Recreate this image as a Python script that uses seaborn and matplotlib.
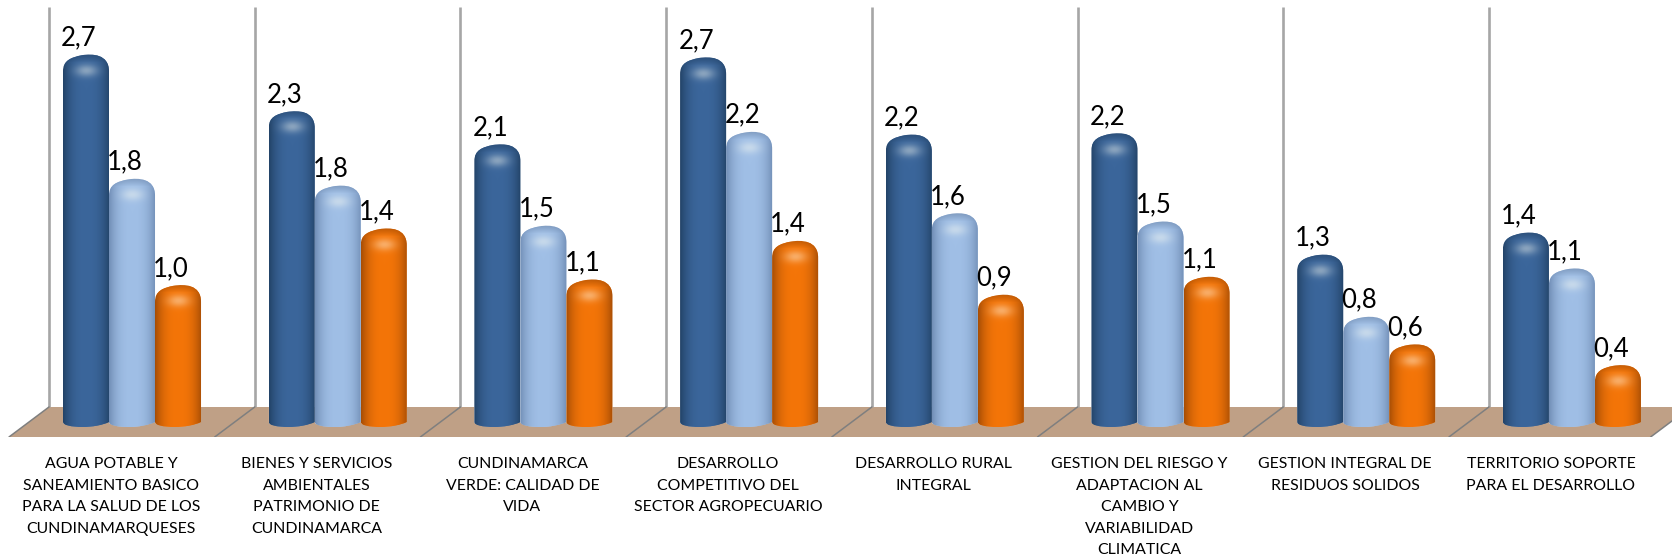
import matplotlib
matplotlib.use('Agg')
import matplotlib.pyplot as plt
import numpy as np
import pandas as pd
import seaborn as sns
from matplotlib.colors import to_rgb
from matplotlib.patches import Polygon
from matplotlib.path import Path

categories = [
    'AGUA POTABLE Y\nSANEAMIENTO BASICO\nPARA LA SALUD DE LOS\nCUNDINAMARQUESES',
    'BIENES Y SERVICIOS\nAMBIENTALES\nPATRIMONIO DE\nCUNDINAMARCA',
    'CUNDINAMARCA\nVERDE: CALIDAD DE\nVIDA',
    'DESARROLLO\nCOMPETITIVO DEL\nSECTOR AGROPECUARIO',
    'DESARROLLO RURAL\nINTEGRAL',
    'GESTION DEL RIESGO Y\nADAPTACION AL\nCAMBIO Y\nVARIABILIDAD\nCLIMATICA',
    'GESTION INTEGRAL DE\nRESIDUOS SOLIDOS',
    'TERRITORIO SOPORTE\nPARA EL DESARROLLO',
]
# bar heights, labels as printed on it
serie_a = [2.70, 2.29, 2.05, 2.68, 2.12, 2.13, 1.25, 1.41]
serie_b = [1.80, 1.75, 1.46, 2.14, 1.55, 1.49, 0.80, 1.15]
serie_c = [1.03, 1.44, 1.07, 1.35, 0.96, 1.09, 0.60, 0.45]
labels_a = ['2,7', '2,3', '2,1', '2,7', '2,2', '2,2', '1,3', '1,4']
labels_b = ['1,8', '1,8', '1,5', '2,2', '1,6', '1,5', '0,8', '1,1']
labels_c = ['1,0', '1,4', '1,1', '1,4', '0,9', '1,1', '0,6', '0,4']

# center color, edge color for each series
colors = {'a': ('#3B669B', '#234469'),
          'b': ('#A0BFE6', '#7390B8'),
          'c': ('#F47508', '#A84E05')}

W, H = 1672, 559
PX_X = 205.7     # pixels per category
PX_Y = 138.0     # pixels per value unit
X0 = 132.0       # pixel of first category
Y0 = 427         # pixel of value 0
FRONT = 437      # pixel of floor front edge

sns.set_theme(style='white')
plt.rcParams['font.family'] = ['Lato', 'DejaVu Sans']

df = pd.DataFrame({
    'categoria': categories * 3,
    'serie': ['a'] * 8 + ['b'] * 8 + ['c'] * 8,
    'valor': serie_a + serie_b + serie_c,
})

fig = plt.figure(figsize=(W / 100, H / 100), dpi=100)
ax = fig.add_axes([0, (H - FRONT) / H, 1, FRONT / H])
sns.barplot(data=df, x='categoria', y='valor', hue='serie', hue_order=list('abc'),
            palette={k: v[0] for k, v in colors.items()}, width=0.671, gap=0,
            saturation=1, legend=False, errorbar=None, ax=ax)

xlim = (-X0 / PX_X, (W - X0) / PX_X)
ylim = ((Y0 - FRONT) / PX_Y, Y0 / PX_Y)


def dx(px):
    return px / PX_X


def dy(px):
    return px / PX_Y


# floor and walls
front_left = (9 - X0) / PX_X
front_right = front_left + 8 - dx(4)
back_off = dx(40)
floor_back = dy(Y0 - 407)
ax.add_patch(Polygon([(front_left, ylim[0]), (front_left + back_off, floor_back),
                      (front_right + back_off, floor_back), (front_right, ylim[0])],
                     closed=True, facecolor='#BFA086', edgecolor='none', zorder=0.5))
for i in range(9):
    xf = front_left + i if i < 8 else front_right
    ax.plot([xf, xf + back_off], [ylim[0], floor_back], color='#7F7F7F', lw=1.1, zorder=0.7)
    if i < 8:
        ax.plot([xf + back_off] * 2, [floor_back, dy(Y0 - 7)], color='#A6A6A6', lw=1.9,
                zorder=0.6, solid_capstyle='butt')


def bar_path(x0, x1, top):
    # rounded cap on top, shallow ellipse at the bottom
    xc = (x0 + x1) / 2
    side = dy(5)
    shoulder = top - dy(17)
    verts = [(x0, side), (x0, shoulder),
             (x0, top - dy(6)), (x0 + dx(8), top - dy(3)), (xc - dx(4), top - dy(0.8)),
             (xc + dx(6), top + dy(0.8)), (x1, top + dy(0.5)), (x1, shoulder),
             (x1, side),
             (x1 - dx(6), dy(2)), (xc + dx(6), 0), (xc - dx(3), 0),
             (x0 + dx(8), 0), (x0, dy(2)), (x0, side)]
    codes = [Path.MOVETO, Path.LINETO,
             Path.CURVE4, Path.CURVE4, Path.CURVE4,
             Path.CURVE4, Path.CURVE4, Path.CURVE4,
             Path.LINETO,
             Path.CURVE4, Path.CURVE4, Path.CURVE4,
             Path.CURVE4, Path.CURVE4, Path.CURVE4]
    return Path(verts, codes)


def shade(center, edge, w_px, h_px):
    # cylinder shading with a lit spot under the cap
    cc = np.array(to_rgb(center))
    ce = np.array(to_rgb(edge))
    xs = np.linspace(-1, 1, w_px)
    ys = np.arange(h_px)
    xx, yy = np.meshgrid(xs, ys)
    t = np.abs(xx) ** 2.6
    img = cc[None, None, :] * (1 - t[..., None]) + ce[None, None, :] * t[..., None]
    # darker crown at the very top
    crown = np.clip(1 - yy / 8, 0, 1)[..., None] * 0.5
    img = img * (1 - crown) + (ce * 0.85)[None, None, :] * crown
    # highlight
    glow = np.exp(-(xx * w_px / 2 / 11) ** 2 - ((yy - 16) / 6) ** 2)[..., None] * 0.4
    img = img * (1 - glow) + np.array([1, 1, 0.95])[None, None, :] * glow
    return np.clip(img, 0, 1)


all_labels = {'a': labels_a, 'b': labels_b, 'c': labels_c}
for k, (name, container) in enumerate(zip('abc', ax.containers)):
    for bar, lab in zip(container, all_labels[name]):
        x0, x1 = bar.get_x(), bar.get_x() + bar.get_width()
        h = bar.get_height()
        path = bar_path(x0, x1, h)
        bar.set_zorder(2 + k)
        bar.set_clip_path(path, ax.transData)
        w_px = int(round(bar.get_width() * PX_X))
        h_px = int(round(h * PX_Y))
        im = ax.imshow(shade(*colors[name], w_px, h_px), extent=(x0, x1, 0, h), origin='upper',
                       aspect='auto', interpolation='bilinear', zorder=2 + k)
        im.set_clip_path(path, ax.transData)
        ax.annotate(lab, xy=(bar.get_x() + bar.get_width() / 2, h), xytext=(-5, 6.5),
                    textcoords='offset points', ha='center', va='baseline',
                    fontsize=18.5, color='black', zorder=10)

ax.set_xlim(*xlim)
ax.set_ylim(*ylim)
ax.set_xticks(np.arange(8) - dx(21), labels=categories)
ax.tick_params(axis='x', length=0, pad=14.5, labelsize=11.4, labelcolor='black')
for t in ax.get_xticklabels():
    t.set_linespacing(1.68)
ax.set_yticks([])
ax.set_xlabel('')
ax.set_ylabel('')
ax.set_frame_on(False)
ax.grid(False)

fig.savefig('out.png', dpi=100)
